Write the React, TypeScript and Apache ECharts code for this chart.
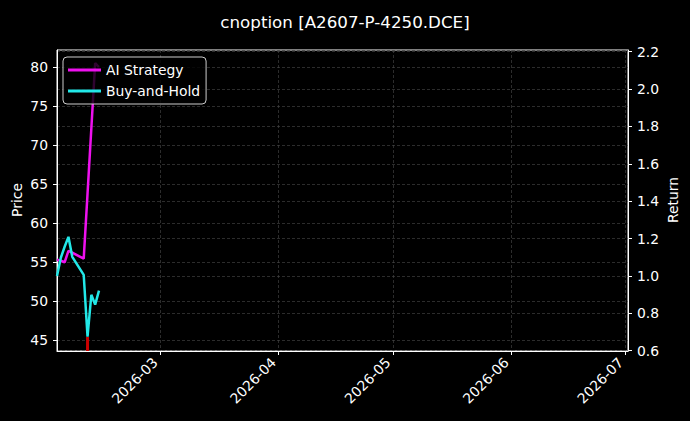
import React, { useEffect, useRef } from 'react';
import * as echarts from 'echarts';

const dates = [
  '2026-02-02', '2026-02-03', '2026-02-04', '2026-02-05', '2026-02-06',
  '2026-02-09', '2026-02-10', '2026-02-11', '2026-02-12', '2026-02-13'
];
const aiStrategy = [1.086, 1.081, 1.073, 1.134, 1.124, 1.092, 1.44, 1.79, 2.139, 2.118];
const buyAndHold = [1.0, 1.097, 1.156, 1.209, 1.102, 1.005, 0.675, 0.899, 0.846, 0.921];
// price marker drawn at the low of the period
const priceDates = ['2026-02-10', '2026-02-10'];
const priceValues = [43.6, 45.4];
const monthTicks = ['2026-03-01', '2026-04-01', '2026-05-01', '2026-06-01', '2026-07-01'];

const ts = (s: string) => {
  const [y, m, d] = s.split('-').map(Number);
  return new Date(y, m - 1, d).getTime();
};

const FONT = "'DejaVu Sans', sans-serif";
const FS = 13.9;
const gridLine = { show: true, lineStyle: { color: '#4a4a4a', type: [3, 2] as any, width: 0.6 } };

export default function App() {
  const chartRef = useRef<HTMLDivElement>(null);

  useEffect(() => {
    if (!chartRef.current) return;
    const chart = echarts.init(chartRef.current, undefined, { renderer: 'svg' });

    const tickValues = monthTicks.map(ts);

    chart.setOption({
      animation: false,
      backgroundColor: '#000000',
      textStyle: { fontFamily: FONT, color: '#ffffff' },
      title: {
        text: 'cnoption [A2607-P-4250.DCE]',
        left: 'center',
        top: 8,
        textStyle: { color: '#ffffff', fontSize: 16.7, fontWeight: 'normal', fontFamily: FONT }
      },
      // axis titles, placed like matplotlib's ylabel
      graphic: [
        {
          type: 'text',
          x: 17,
          y: 200,
          rotation: Math.PI / 2,
          style: { text: 'Price', fill: '#ffffff', font: `${FS}px ${FONT}`, align: 'center', verticalAlign: 'middle' }
        },
        {
          type: 'text',
          x: 673,
          y: 200,
          rotation: Math.PI / 2,
          style: { text: 'Return', fill: '#ffffff', font: `${FS}px ${FONT}`, align: 'center', verticalAlign: 'middle' }
        }
      ],
      legend: {
        left: 63,
        top: 57,
        orient: 'vertical',
        icon: 'rect',
        itemWidth: 33,
        itemHeight: 3,
        itemGap: 5,
        padding: [5, 6, 5, 5],
        backgroundColor: 'rgba(0,0,0,0.8)',
        borderColor: '#cccccc',
        borderWidth: 1,
        borderRadius: 4,
        textStyle: { color: '#ffffff', fontSize: FS, fontFamily: FONT, lineHeight: 16 },
        data: ['AI Strategy', 'Buy-and-Hold']
      },
      grid: {
        left: 57,
        right: 62,
        top: 50,
        bottom: 70,
        containLabel: false,
        outerBoundsMode: 'none',
        show: true,
        borderColor: '#ffffff',
        borderWidth: 1,
        backgroundColor: 'transparent'
      },
      xAxis: {
        type: 'value',
        min: ts('2026-02-02'),
        max: ts('2026-07-01') + 0.6 * 86400000,
        axisLine: { show: true, onZero: false, lineStyle: { color: '#ffffff' } },
        axisTick: { show: true, length: 4, customValues: tickValues, lineStyle: { color: '#ffffff' } },
        axisLabel: {
          customValues: tickValues,
          rotate: 45,
          verticalAlign: 'bottom',
          color: '#ffffff',
          fontSize: FS,
          fontFamily: FONT,
          margin: 14,
          formatter: (v: number) => {
            const d = new Date(v);
            return `${d.getFullYear()}-${String(d.getMonth() + 1).padStart(2, '0')}`;
          }
        },
        splitLine: gridLine
      },
      yAxis: [
        {
          type: 'value',
          min: 43.6,
          max: 82.2,
          splitNumber: 8,
          minInterval: 5,
          maxInterval: 5,
          axisLine: { show: true, lineStyle: { color: '#ffffff' } },
          axisTick: { show: true, length: 4, lineStyle: { color: '#ffffff' } },
          axisLabel: { color: '#ffffff', fontSize: FS, fontFamily: FONT, margin: 9, showMinLabel: false, showMaxLabel: false },
          splitLine: gridLine
        },
        {
          type: 'value',
          min: 0.598,
          max: 2.209,
          splitNumber: 8,
          minInterval: 0.2,
          maxInterval: 0.2,
          axisLine: { show: true, lineStyle: { color: '#ffffff' } },
          axisTick: { show: true, length: 4, lineStyle: { color: '#ffffff' } },
          axisLabel: {
            color: '#ffffff', fontSize: FS, fontFamily: FONT, margin: 9,
            showMinLabel: false, showMaxLabel: false,
            formatter: (v: number) => v.toFixed(1)
          },
          splitLine: gridLine
        }
      ],
      series: [
        {
          name: 'Price',
          type: 'line',
          yAxisIndex: 0,
          symbol: 'none',
          data: priceDates.map((d, i) => [ts(d), priceValues[i]]),
          lineStyle: { color: '#cc0000', width: 3 },
          z: 1
        },
        {
          name: 'AI Strategy',
          type: 'line',
          yAxisIndex: 1,
          symbol: 'none',
          color: '#ee11ee',
          data: dates.map((d, i) => [ts(d), aiStrategy[i]]),
          lineStyle: { color: '#ee11ee', width: 2.5 },
          z: 2
        },
        {
          name: 'Buy-and-Hold',
          type: 'line',
          yAxisIndex: 1,
          symbol: 'none',
          color: '#22e8e8',
          data: dates.map((d, i) => [ts(d), buyAndHold[i]]),
          lineStyle: { color: '#22e8e8', width: 2.5 },
          z: 3
        }
      ]
    });

    return () => chart.dispose();
  }, []);

  return (
    <div
      ref={chartRef}
      style={{ position: 'absolute', left: 0, top: 0, width: 690, height: 421, background: '#000' }}
    />
  );
}
